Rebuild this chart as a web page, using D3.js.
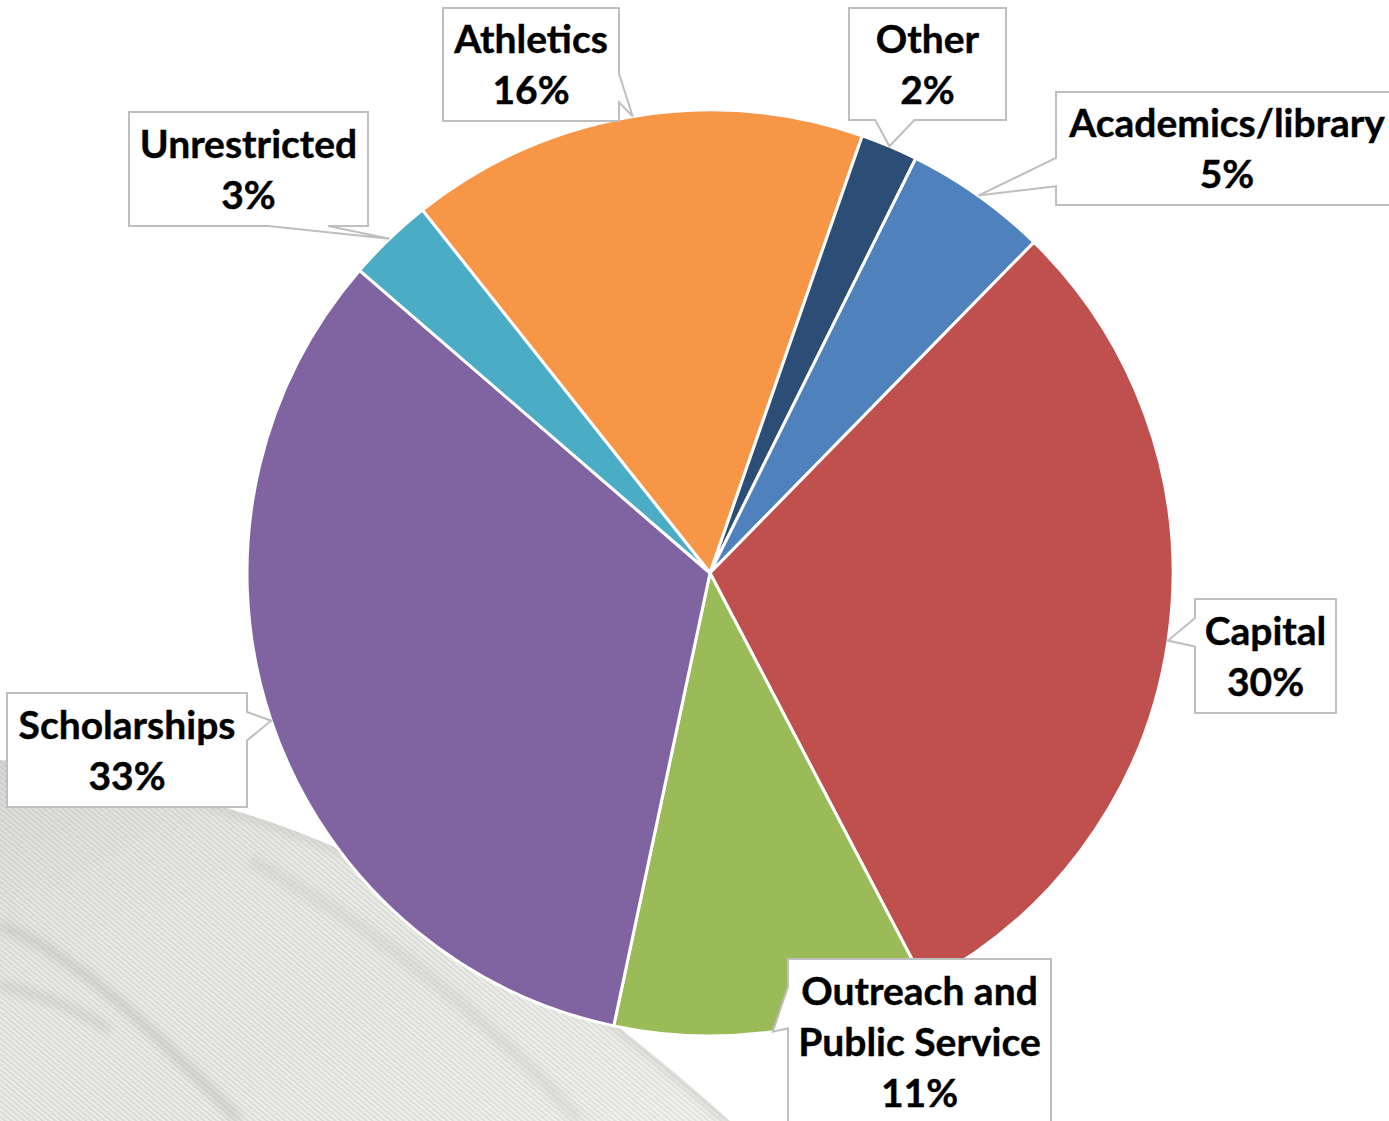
<!DOCTYPE html>
<html>
<head>
<meta charset="utf-8">
<script src="https://cdn.jsdelivr.net/npm/d3@7"></script>
<style>
  html, body { margin: 0; padding: 0; background: #ffffff; overflow: hidden; }
  svg { display: block; }
</style>
</head>
<body>
<svg id="chart" width="1389" height="1121"></svg>
<script>
// Gift allocation by purpose (percent of total), clockwise order
const categories = ["Athletics", "Other", "Academics/library", "Capital",
                    "Outreach and Public Service", "Scholarships", "Unrestricted"];
const shares = [16, 2, 5, 30, 11, 33, 3];
const labelLines = [["Athletics"], ["Other"], ["Academics/library"], ["Capital"],
                    ["Outreach and", "Public Service"], ["Scholarships"], ["Unrestricted"]];
const sliceColors = ["#F79646", "#2C4D75", "#4F81BD", "#C0504D", "#9BBB59", "#8064A2", "#4BACC6"];

// Callout box placement: [x, y, width, height]
const labelBoxes = [
  [443, 8, 176, 113],
  [849, 8, 157, 112],
  [1056, 92, 342, 113],
  [1195, 599, 141, 114],
  [788, 959, 263, 166],
  [7, 693, 240, 114],
  [129, 112, 239, 114]
];

const W = 1389, H = 1121;
const cx = 710, cy = 573, R = 463;
const deg = Math.PI / 180;
const startDeg = -38.4;

const svg = d3.select("#chart");
const defs = svg.append("defs");

// ---- decorative textured swoosh in the lower-left corner ----
const pat = defs.append("pattern")
  .attr("id", "weave")
  .attr("patternUnits", "userSpaceOnUse")
  .attr("width", 4).attr("height", 4)
  .attr("patternTransform", "rotate(-50)");
pat.append("rect").attr("width", 4).attr("height", 4).attr("fill", "#ebebe8");
pat.append("rect").attr("x", 0).attr("width", 1.6).attr("height", 4).attr("fill", "#d3d3cf");

const soft = defs.append("filter").attr("id", "soft")
  .attr("x", "-20%").attr("y", "-20%").attr("width", "140%").attr("height", "140%");
soft.append("feGaussianBlur").attr("stdDeviation", 4);

const shade = defs.append("linearGradient").attr("id", "shade")
  .attr("x1", 0).attr("y1", 0).attr("x2", 1).attr("y2", 1);
shade.append("stop").attr("offset", "0%").attr("stop-color", "#b5b5b0").attr("stop-opacity", 0.35);
shade.append("stop").attr("offset", "55%").attr("stop-color", "#ffffff").attr("stop-opacity", 0.05);
shade.append("stop").attr("offset", "100%").attr("stop-color", "#ffffff").attr("stop-opacity", 0.3);

const swooshD = "M0,760 C150,780 300,820 420,890 C530,955 640,1040 730,1121 L0,1121 Z";
const swoosh = svg.append("g");
swoosh.append("clipPath").attr("id", "swClip").append("path").attr("d", swooshD);
swoosh.append("path").attr("d", swooshD).attr("fill", "url(#weave)");
swoosh.append("path").attr("d", swooshD).attr("fill", "url(#shade)");
const folds = swoosh.append("g").attr("clip-path", "url(#swClip)").attr("filter", "url(#soft)");
folds.append("path").attr("d", "M0,762 C150,782 300,822 420,892 C530,957 640,1042 730,1123")
  .attr("fill", "none").attr("stroke", "#c8c8c4").attr("stroke-width", 6).attr("opacity", 0.8);
folds.append("path").attr("d", "M0,925 C60,950 110,990 170,1050 C200,1080 220,1100 240,1121")
  .attr("fill", "none").attr("stroke", "#bcbcb7").attr("stroke-width", 10).attr("opacity", 0.55);
folds.append("path").attr("d", "M0,985 C40,995 70,1005 110,1030")
  .attr("fill", "none").attr("stroke", "#bcbcb7").attr("stroke-width", 8).attr("opacity", 0.5);
folds.append("path").attr("d", "M250,860 C380,930 480,1010 580,1121")
  .attr("fill", "none").attr("stroke", "#d0d0cc").attr("stroke-width", 14).attr("opacity", 0.5);

// ---- pie ----
const pie = d3.pie()
  .sort(null)
  .value(d => d)
  .startAngle(startDeg * deg)
  .endAngle((startDeg + 360) * deg);
const arcs = pie(shares);

const arc = d3.arc().innerRadius(0).outerRadius(R);
const rim = d3.arc().innerRadius(R).outerRadius(R);

const g = svg.append("g").attr("transform", `translate(${cx},${cy})`);
g.selectAll("path.slice")
  .data(arcs)
  .join("path")
  .attr("class", "slice")
  .attr("d", arc)
  .attr("fill", (d, i) => sliceColors[i])
  .attr("stroke", "#ffffff")
  .attr("stroke-width", 3)
  .attr("stroke-linejoin", "round");

// ---- callout labels (rectangle with wedge pointing to the slice rim) ----
function calloutPath(x, y, w, h, tx, ty) {
  const mx = x + w / 2, my = y + h / 2;
  const dx = tx - mx, dy = ty - my;
  const horiz = Math.abs(dx) * h > Math.abs(dy) * w;
  const lo = [2 / 12, 5 / 12], hi = [7 / 12, 10 / 12];
  const p = [[x, y]];
  if (!horiz && dy < 0) { const a = dx < 0 ? lo : hi; p.push([x + w * a[0], y], [tx, ty], [x + w * a[1], y]); }
  p.push([x + w, y]);
  if (horiz && dx > 0) { const a = dy < 0 ? lo : hi; p.push([x + w, y + h * a[0]], [tx, ty], [x + w, y + h * a[1]]); }
  p.push([x + w, y + h]);
  if (!horiz && dy > 0) { const a = dx < 0 ? lo : hi; p.push([x + w * a[1], y + h], [tx, ty], [x + w * a[0], y + h]); }
  p.push([x, y + h]);
  if (horiz && dx < 0) { const a = dy < 0 ? lo : hi; p.push([x, y + h * a[1]], [tx, ty], [x, y + h * a[0]]); }
  return "M" + p.map(q => q[0].toFixed(1) + "," + q[1].toFixed(1)).join("L") + "Z";
}

const fontSize = 39;
const lineStep = 51;
const labels = svg.append("g");
arcs.forEach((d, i) => {
  const [bx, by, bw, bh] = labelBoxes[i];
  const c = rim.centroid(d);
  const tx = cx + c[0], ty = cy + c[1];
  labels.append("path")
    .attr("d", calloutPath(bx, by, bw, bh, tx, ty))
    .attr("fill", "#ffffff")
    .attr("stroke", "#bfbfbf")
    .attr("stroke-width", 2)
    .attr("stroke-linejoin", "miter");

  const lines = labelLines[i].concat([d3.format(".0%")(shares[i] / 100)]);
  const midY = by + bh / 2;
  const t = labels.append("text")
    .attr("text-anchor", "middle")
    .attr("font-family", "Lato, 'Open Sans', sans-serif")
    .attr("font-weight", "bold")
    .attr("font-size", fontSize)
    .attr("fill", "#000000")
    .attr("stroke", "#000000")
    .attr("stroke-width", 0.4);
  lines.forEach((ln, k) => {
    t.append("tspan")
      .attr("x", bx + bw / 2)
      .attr("y", midY + (k - (lines.length - 1) / 2) * lineStep + fontSize * 0.36)
      .text(ln);
  });
});
</script>
</body>
</html>
